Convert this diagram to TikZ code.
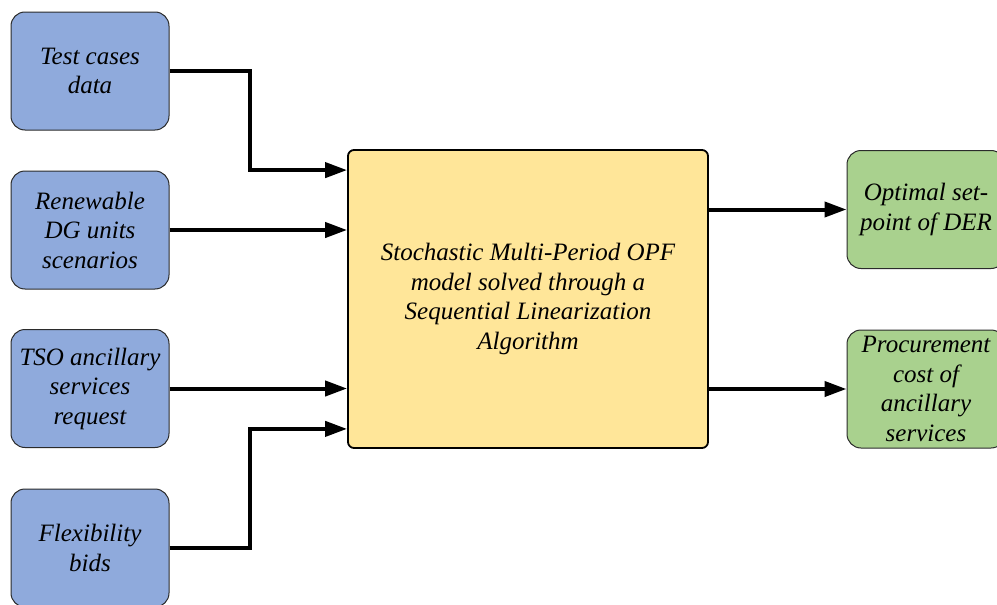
\documentclass[tikz,border=0pt]{standalone}
\usepackage{fontspec}
\setmainfont{Liberation Serif}
\usetikzlibrary{arrows.meta,calc}

\definecolor{inblue}{HTML}{8FAADC}
\definecolor{coreyellow}{HTML}{FFE699}
\definecolor{outgreen}{HTML}{A9D18E}
\definecolor{edgegray}{HTML}{2B2B2B}

\tikzset{
  boxtext/.style={align=center, font=\fontsize{25}{29.5}\selectfont\itshape, inner sep=0pt},
  inbox/.style={boxtext, draw=edgegray, line width=1pt, fill=inblue, rounded corners=14pt,
    minimum width=158pt, minimum height=118pt},
  outbox/.style={boxtext, draw=edgegray, line width=1pt, fill=outgreen, rounded corners=14pt,
    minimum width=158pt, minimum height=118pt},
  corebox/.style={boxtext, draw=black, line width=1.8pt, fill=coreyellow, rounded corners=6pt,
    minimum width=360pt, minimum height=298pt},
  flow/.style={line width=4pt, -{Triangle[length=22pt,width=15pt]}},
}

\begin{document}
\begin{tikzpicture}[x=1pt,y=-1pt]
  \clip (0,0) rectangle (997,605);

  % inputs
  \node[inbox] (tc)  at (90,71)    {Test cases\\data};
  \node[inbox] (ren) at (90,230)   {Renewable\\DG units\\scenarios};
  \node[inbox] (tso) at (90,388.5) {TSO ancillary\\services\\request};
  \node[inbox] (flx) at (90,548)   {Flexibility\\bids};

  % optimisation core
  \node[corebox] (core) at (528,299)
    {Stochastic Multi-Period OPF\\model solved through a\\Sequential Linearization\\Algorithm};

  % outputs
  \node[outbox] (spt) at (926,209.5) {Optimal set-\\point of DER};
  \node[outbox] (cst) at (926,389)   {Procurement\\cost of\\ancillary\\services};

  % connectors into the core
  \draw[flow] (tc.east) -- ++(80,0) |- ([yshift=-21pt]core.north west);
  \draw[flow] (ren.east) -- (ren.east -| core.west);
  \draw[flow] (tso.east) -- (tso.east -| core.west);
  \draw[flow] (flx.east) -- ++(80,0) |- ([yshift=20pt]core.south west);

  % connectors out of the core
  \draw[flow] (spt.west -| core.east) -- (spt.west);
  \draw[flow] (cst.west -| core.east) -- (cst.west);
\end{tikzpicture}
\end{document}
